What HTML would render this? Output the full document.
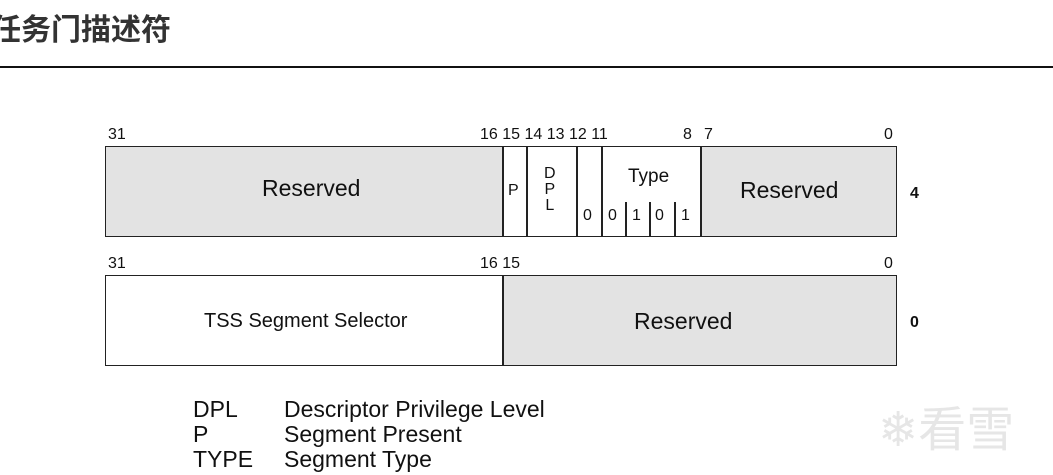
<!DOCTYPE html>
<html><head><meta charset="utf-8"><style>
body{margin:0;width:1053px;height:475px;background:#fff;position:relative;overflow:hidden;font-family:"Liberation Sans",Arial,sans-serif;color:#111}
.a{position:absolute;box-sizing:border-box}
.t{position:absolute;white-space:nowrap}
.g{background:#e3e3e3}
.v{position:absolute;width:1.5px;background:#222}
.s{font-size:16px}
</style></head><body>
<div class="t" style="left:-9px;top:5px;font-family:'Liberation Sans','Noto Sans CJK SC',sans-serif;font-weight:bold;font-size:30px;color:#333">任务门描述符</div>
<div class="a" style="left:0;top:66px;width:1053px;height:2px;background:#111"></div>

<div class="a g" style="left:105px;top:146px;width:398px;height:91px"></div>
<div class="a g" style="left:700px;top:146px;width:197px;height:91px"></div>
<div class="a g" style="left:502px;top:275px;width:395px;height:91px"></div>

<div class="t s" style="left:108px;top:126px">31</div>
<div class="t s" style="left:480px;top:126px">16 15 14 13 12 11</div>
<div class="t s" style="left:683px;top:126px">8</div>
<div class="t s" style="left:704px;top:126px">7</div>
<div class="t s" style="left:884px;top:126px">0</div>

<div class="a" style="left:105px;top:146px;width:792px;height:91px;border:1.5px solid #222"></div>
<div class="v" style="left:502px;top:147px;height:89px"></div>
<div class="v" style="left:526px;top:147px;height:89px"></div>
<div class="v" style="left:576px;top:147px;height:89px"></div>
<div class="v" style="left:601px;top:147px;height:89px"></div>
<div class="v" style="left:700px;top:147px;height:89px"></div>
<div class="v" style="left:625px;top:202px;height:34px"></div>
<div class="v" style="left:649px;top:202px;height:34px"></div>
<div class="v" style="left:674px;top:202px;height:34px"></div>
<div class="t" style="left:262px;top:175px;font-size:23px">Reserved</div>
<div class="t" style="left:740px;top:177px;font-size:23px">Reserved</div>
<div class="t s" style="left:508px;top:182px">P</div>
<div class="t s" style="left:544px;top:166px;line-height:16px;text-align:center">D<br>P<br>L</div>
<div class="t" style="left:628px;top:166px;font-size:19px">Type</div>
<div class="t s" style="left:583px;top:207px">0</div>
<div class="t s" style="left:608px;top:207px">0</div>
<div class="t s" style="left:632px;top:207px">1</div>
<div class="t s" style="left:655px;top:207px">0</div>
<div class="t s" style="left:681px;top:207px">1</div>
<div class="t s" style="left:910px;top:185px;font-weight:bold">4</div>

<div class="t s" style="left:108px;top:255px">31</div>
<div class="t s" style="left:480px;top:255px">16 15</div>
<div class="t s" style="left:884px;top:255px">0</div>
<div class="a" style="left:105px;top:275px;width:792px;height:91px;border:1.5px solid #222"></div>
<div class="v" style="left:502px;top:276px;height:89px"></div>
<div class="t" style="left:204px;top:310px;font-size:20px">TSS Segment Selector</div>
<div class="t" style="left:634px;top:308px;font-size:23px">Reserved</div>
<div class="t s" style="left:910px;top:314px;font-weight:bold">0</div>

<div class="t" style="left:193px;top:397px;font-size:23px;line-height:25px">DPL<br>P<br>TYPE</div>
<div class="t" style="left:284px;top:397px;font-size:23px;line-height:25px">Descriptor Privilege Level<br>Segment Present<br>Segment Type</div>
<div class="t" style="left:878px;top:390px;font-family:'Liberation Sans','Noto Sans CJK SC',sans-serif;font-size:48px;color:#e6e6e6">❄看雪</div>
</body></html>
